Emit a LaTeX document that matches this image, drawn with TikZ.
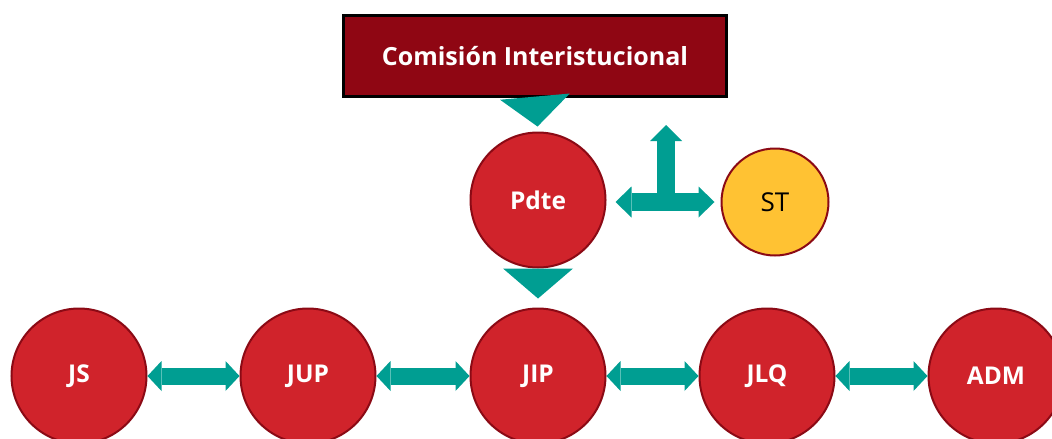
\documentclass[tikz,border=0pt]{standalone}
\usepackage{fontspec}
\setmainfont{Open Sans}
\usetikzlibrary{arrows.meta}
\definecolor{rojo}{HTML}{D0232B}
\definecolor{borde}{HTML}{8B0A15}
\definecolor{vino}{HTML}{8F0613}
\definecolor{verde}{HTML}{009E92}
\definecolor{amarillo}{HTML}{FFC233}

\begin{document}
\begin{tikzpicture}[x=1pt,y=-1pt,
  unidad/.style={circle,draw=borde,fill=rojo,line width=2pt,minimum size=135pt,
    inner sep=0pt,text=white,font=\fontsize{24.5}{28}\selectfont\bfseries},
  flecha/.style={draw=verde,line width=17pt,
    {Triangle[length=14pt,width=30pt,line width=0pt]}-{Triangle[length=14pt,width=30pt,line width=0pt]}},
  punta/.style={draw=verde,line width=0.1pt,-{Triangle[length=30pt,width=70pt,line width=0pt]}}]
  \useasboundingbox (0,0) rectangle (1052,439);
  % comision
  \node[draw=black,fill=vino,line width=2.5pt,minimum width=383pt,minimum height=81pt,
    text=white,font=\fontsize{25}{28}\selectfont\bfseries] (com) at (535,56) {Comisión Interistucional};
  \node[unidad] (pdte) at (538,200) {Pdte};
  \node[circle,draw=borde,fill=amarillo,line width=2pt,minimum size=107pt,inner sep=0pt,
    font=\fontsize{26}{28}\selectfont] (st) at (775,202) {ST};
  % juntas
  \foreach \n/\x in {JS/79,JUP/308,JIP/538,JLQ/767,ADM/996}
    \node[unidad] (\n) at (\x,376) {\n};
  % flechas
  \draw[punta,shorten >=5pt] (com.south) -- (pdte.north);
  \draw[punta,shorten >=9pt] (pdte.south) -- (JIP.north);
  \coordinate (cruce) at (666,202);
  \coordinate (arriba) at (666,125);
  \draw[verde,line width=18pt,-{Triangle[length=16pt,width=32pt,line width=0pt]}] (cruce) -- (arriba);
  \draw[flecha,line width=18pt,
    {Triangle[length=16pt,width=31pt,line width=0pt]}-{Triangle[length=16pt,width=31pt,line width=0pt]},
    shorten <=9pt,shorten >=6pt] (pdte.east |- cruce) -- (st.west |- cruce);
  \draw[flecha] (JS) -- (JUP);
  \draw[flecha] (JUP) -- (JIP);
  \draw[flecha] (JIP) -- (JLQ);
  \draw[flecha] (JLQ) -- (ADM);
\end{tikzpicture}
\end{document}
